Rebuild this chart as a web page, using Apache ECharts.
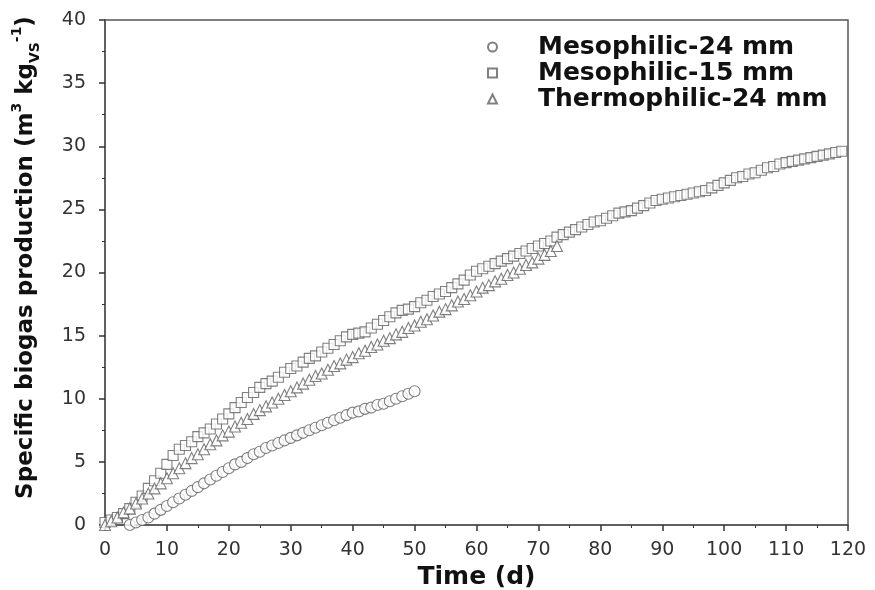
<!DOCTYPE html>
<html>
<head>
<meta charset="utf-8">
<script src="https://cdn.jsdelivr.net/npm/echarts@6/dist/echarts.min.js"></script>
<style>
  html, body { margin: 0; padding: 0; background: #fff; }
  #chart { width: 875px; height: 590px; }
</style>
</head>
<body>
<div id="chart"></div>
<script>
// values, one point per day
var meso24Start = 4;
var meso24 = [0.0, 0.2, 0.4, 0.6, 0.9, 1.2, 1.5, 1.8, 2.1, 2.4, 2.7, 3.0, 3.3, 3.6, 3.9, 4.2,
  4.5, 4.8, 5.0, 5.3, 5.6, 5.8, 6.1, 6.3, 6.5, 6.7, 6.9, 7.1, 7.3, 7.5, 7.7, 7.9,
  8.1, 8.3, 8.5, 8.7, 8.9, 9.0, 9.2, 9.3, 9.5, 9.6, 9.8, 10.0, 10.2, 10.4, 10.6];

var meso15Start = 0;
var meso15 = [0.2, 0.4, 0.6, 0.9, 1.3, 1.8, 2.3, 2.9, 3.5, 4.1, 4.8, 5.5, 6.0, 6.3, 6.6, 7.0,
  7.3, 7.6, 8.0, 8.4, 8.8, 9.3, 9.7, 10.1, 10.5, 10.9, 11.2, 11.4, 11.7, 12.1, 12.4, 12.6,
  12.9, 13.2, 13.4, 13.7, 14.0, 14.3, 14.6, 14.9, 15.1, 15.2, 15.3, 15.6, 15.9, 16.2, 16.5, 16.8,
  17.0, 17.1, 17.3, 17.6, 17.8, 18.1, 18.3, 18.5, 18.8, 19.1, 19.4, 19.8, 20.1, 20.3, 20.5, 20.7,
  20.9, 21.1, 21.3, 21.5, 21.7, 21.9, 22.1, 22.3, 22.5, 22.8, 23.0, 23.2, 23.4, 23.6, 23.8, 24.0,
  24.1, 24.3, 24.5, 24.7, 24.8, 24.9, 25.1, 25.3, 25.5, 25.7, 25.8, 25.9, 26.0, 26.1, 26.2, 26.3,
  26.4, 26.5, 26.7, 26.9, 27.1, 27.3, 27.5, 27.6, 27.8, 27.9, 28.1, 28.3, 28.4, 28.6, 28.7, 28.8,
  28.9, 29.0, 29.1, 29.2, 29.3, 29.4, 29.5, 29.6];

var thermo24Start = 0;
var thermo24 = [0.0, 0.3, 0.6, 1.0, 1.3, 1.7, 2.1, 2.5, 2.9, 3.3, 3.7, 4.1, 4.5, 4.9, 5.3, 5.6,
  6.0, 6.4, 6.7, 7.1, 7.4, 7.8, 8.1, 8.4, 8.8, 9.1, 9.4, 9.7, 10.0, 10.3, 10.6, 10.9,
  11.2, 11.5, 11.8, 12.0, 12.3, 12.6, 12.8, 13.1, 13.3, 13.6, 13.8, 14.1, 14.3, 14.6, 14.8, 15.1,
  15.3, 15.6, 15.8, 16.1, 16.3, 16.6, 16.9, 17.1, 17.4, 17.7, 17.9, 18.2, 18.5, 18.8, 19.0, 19.3,
  19.5, 19.8, 20.0, 20.3, 20.6, 20.8, 21.1, 21.4, 21.7, 22.1];

var seriesNames = ['Mesophilic-24 mm', 'Mesophilic-15 mm', 'Thermophilic-24 mm'];

function toPairs(start, values) {
  return values.map(function (v, i) { return [start + i, v]; });
}

var myChart = echarts.init(document.getElementById('chart'));

var markerStyle = {
  color: '#fff',
  borderColor: '#606060',
  borderWidth: 1.1
};
var font = 'DejaVu Sans';

myChart.setOption({
  animation: false,
  backgroundColor: '#fff',
  grid: {
    left: 105, right: 27, top: 20, bottom: 65,
    outerBoundsMode: 'none',
    containLabel: false,
    show: true,
    borderColor: '#555',
    borderWidth: 1.5
  },
  legend: {
    orient: 'vertical',
    left: 482,
    top: 29,
    itemGap: 0,
    itemWidth: 9,
    itemHeight: 9,
    data: seriesNames,
    textStyle: {
      fontFamily: font,
      fontWeight: 'bold',
      fontSize: 25,
      lineHeight: 26,
      color: '#111',
      padding: [0, 0, 0, 36]
    }
  },
  xAxis: {
    type: 'value',
    min: 0, max: 120, interval: 10,
    name: 'Time (d)',
    nameLocation: 'middle',
    nameGap: 29,
    nameTextStyle: { fontFamily: font, fontWeight: 'bold', fontSize: 25, color: '#111' },
    axisLine: { lineStyle: { color: '#555', width: 1.5 } },
    axisTick: { inside: false, length: 6, lineStyle: { color: '#333', width: 1.5 } },
    minorTick: { show: true, splitNumber: 2, length: 3, lineStyle: { color: '#333' } },
    axisLabel: { fontFamily: font, fontSize: 19, color: '#333', margin: 16 },
    splitLine: { show: false }
  },
  yAxis: {
    type: 'value',
    min: 0, max: 40, interval: 5,
    name: 'Specific biogas production (m{sup|3} kg{sub|VS}{sup|-1})',
    nameLocation: 'middle',
    nameRotate: 90,
    nameGap: 63,
    nameTextStyle: {
      fontFamily: font, fontWeight: 'bold', fontSize: 23, color: '#111',
      lineHeight: 32,
      padding: [0, 0, 0, 30],
      rich: {
        sup: { fontFamily: font, fontWeight: 'bold', fontSize: 14, color: '#111', verticalAlign: 'top', lineHeight: 32, padding: [0, 0, 10, 0] },
        sub: { fontFamily: font, fontWeight: 'bold', fontSize: 14, color: '#111', verticalAlign: 'bottom', lineHeight: 32, padding: [10, 0, 0, 0] }
      }
    },
    axisLine: { show: true, lineStyle: { color: '#555', width: 1.5 } },
    axisTick: { show: true, inside: false, length: 6, lineStyle: { color: '#333', width: 1.5 } },
    minorTick: { show: true, splitNumber: 2, length: 3, lineStyle: { color: '#333' } },
    axisLabel: { fontFamily: font, fontSize: 19, color: '#333', margin: 19 },
    splitLine: { show: false }
  },
  series: [
    {
      name: seriesNames[0],
      type: 'scatter',
      symbol: 'circle',
      symbolSize: 11,
      itemStyle: markerStyle,
      data: toPairs(meso24Start, meso24)
    },
    {
      name: seriesNames[1],
      type: 'scatter',
      symbol: 'rect',
      symbolSize: 10,
      itemStyle: markerStyle,
      data: toPairs(meso15Start, meso15)
    },
    {
      name: seriesNames[2],
      type: 'scatter',
      symbol: 'triangle',
      symbolSize: 11,
      itemStyle: markerStyle,
      data: toPairs(thermo24Start, thermo24)
    }
  ]
});
</script>
</body>
</html>
